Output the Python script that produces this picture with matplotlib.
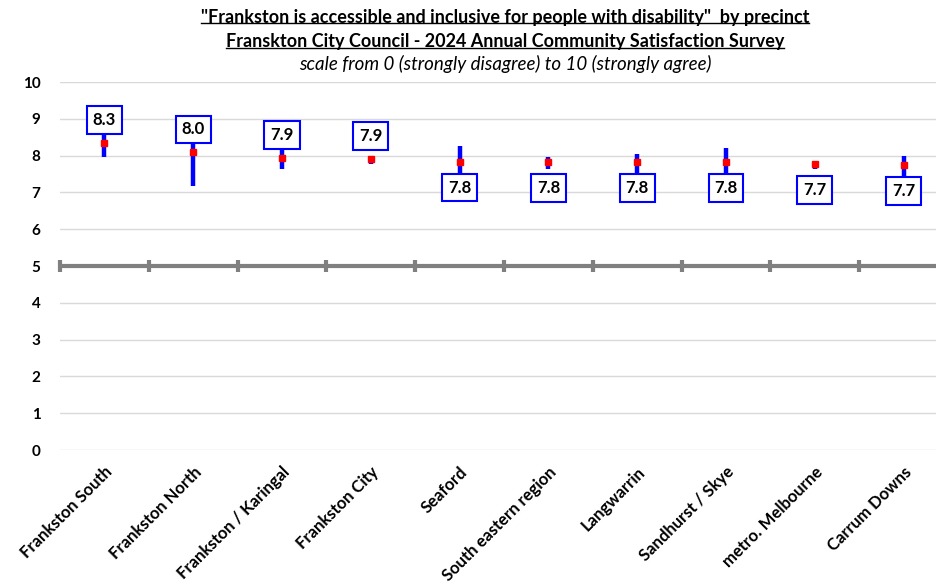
import numpy as np
import matplotlib
matplotlib.use('Agg')
import matplotlib.pyplot as plt
from matplotlib.lines import Line2D

plt.rcParams['font.family'] = ['Lato', 'DejaVu Sans']

# Data
precincts = ['Frankston South', 'Frankston North', 'Frankston / Karingal', 'Frankston City',
             'Seaford', 'South eastern region', 'Langwarrin', 'Sandhurst / Skye',
             'metro. Melbourne', 'Carrum Downs']
means = [8.34, 8.09, 7.93, 7.91, 7.83, 7.82, 7.82, 7.82, 7.77, 7.74]
ci_low = [7.96, 7.17, 7.64, 7.77, 7.40, 7.63, 7.50, 7.45, 7.63, 7.45]
ci_high = [8.72, 9.00, 8.22, 7.92, 8.27, 7.96, 8.03, 8.22, 7.84, 7.99]
labels = ['8.3', '8.0', '7.9', '7.9', '7.8', '7.8', '7.8', '7.8', '7.7', '7.7']
label_above = [True, True, True, True, False, False, False, False, False, False]

fig = plt.figure(figsize=(9.37, 5.87), dpi=100)
ax = fig.add_axes([60 / 937, 1 - 450 / 587, 888 / 937, 368 / 587])

x = np.arange(len(precincts))
ax.set_xlim(-0.5, len(precincts) - 0.5)
ax.set_ylim(0, 10)

# gridlines
for v in range(0, 11):
    ax.axhline(v, color='#d9d9d9', lw=1, zorder=0)

# the line at 5 with its tick marks
ax.axhline(5, color='#808080', lw=3, zorder=1)
sec = ax.secondary_xaxis(0.5)
sec.set_xticks(np.arange(-0.5, len(precincts), 1.0))
sec.set_xticklabels([])
sec.tick_params(direction='inout', length=8, width=3, color='#808080')
for s in sec.spines.values():
    s.set_visible(False)

# the bar for each precinct
ax.vlines(x, ci_low, ci_high, color='#0000ff', lw=3.2, zorder=2)
ax.plot(x, means, 's', color='#ff0000', ms=5, zorder=3)

# value boxes
for xi, m, lab, up in zip(x, means, labels, label_above):
    off = 16.5 if up else -18.5
    ax.annotate(lab, (xi, m), xytext=(0, off), textcoords='offset points',
                ha='center', va='center', fontsize=12, fontweight='bold', zorder=4,
                bbox=dict(boxstyle='square,pad=0.35', fc='white', ec='#0000ff', lw=1.5))

for s in ax.spines.values():
    s.set_visible(False)

ax.set_yticks(range(0, 11))
ax.set_yticklabels([str(v) for v in range(0, 11)], fontsize=11, fontweight='bold')
ax.tick_params(axis='y', length=0, pad=14)
ax.set_xticks(x)
ax.set_xticklabels(precincts, rotation=45, ha='right', va='top', rotation_mode='anchor',
                   fontsize=12, fontweight='bold')
ax.tick_params(axis='x', length=0, pad=10)

# titles
t1 = fig.text(0.539, 1 - 17 / 587, '"Frankston is accessible and inclusive for people with disability"  by precinct',
              ha='center', va='center', fontsize=13, fontweight='bold')
t2 = fig.text(0.539, 1 - 42 / 587, 'Franskton City Council - 2024 Annual Community Satisfaction Survey',
              ha='center', va='center', fontsize=13, fontweight='bold')
fig.text(0.539, 1 - 64 / 587, 'scale from 0 (strongly disagree) to 10 (strongly agree)',
         ha='center', va='center', fontsize=13.5, style='italic')

fig.canvas.draw()
r = fig.canvas.get_renderer()
for t in (t1, t2):
    bb = t.get_window_extent(r).transformed(fig.transFigure.inverted())
    fig.add_artist(Line2D([bb.x0, bb.x1], [bb.y0 + 0.004, bb.y0 + 0.004],
                          color='black', lw=1, transform=fig.transFigure))

fig.savefig('out.png', dpi=100)
